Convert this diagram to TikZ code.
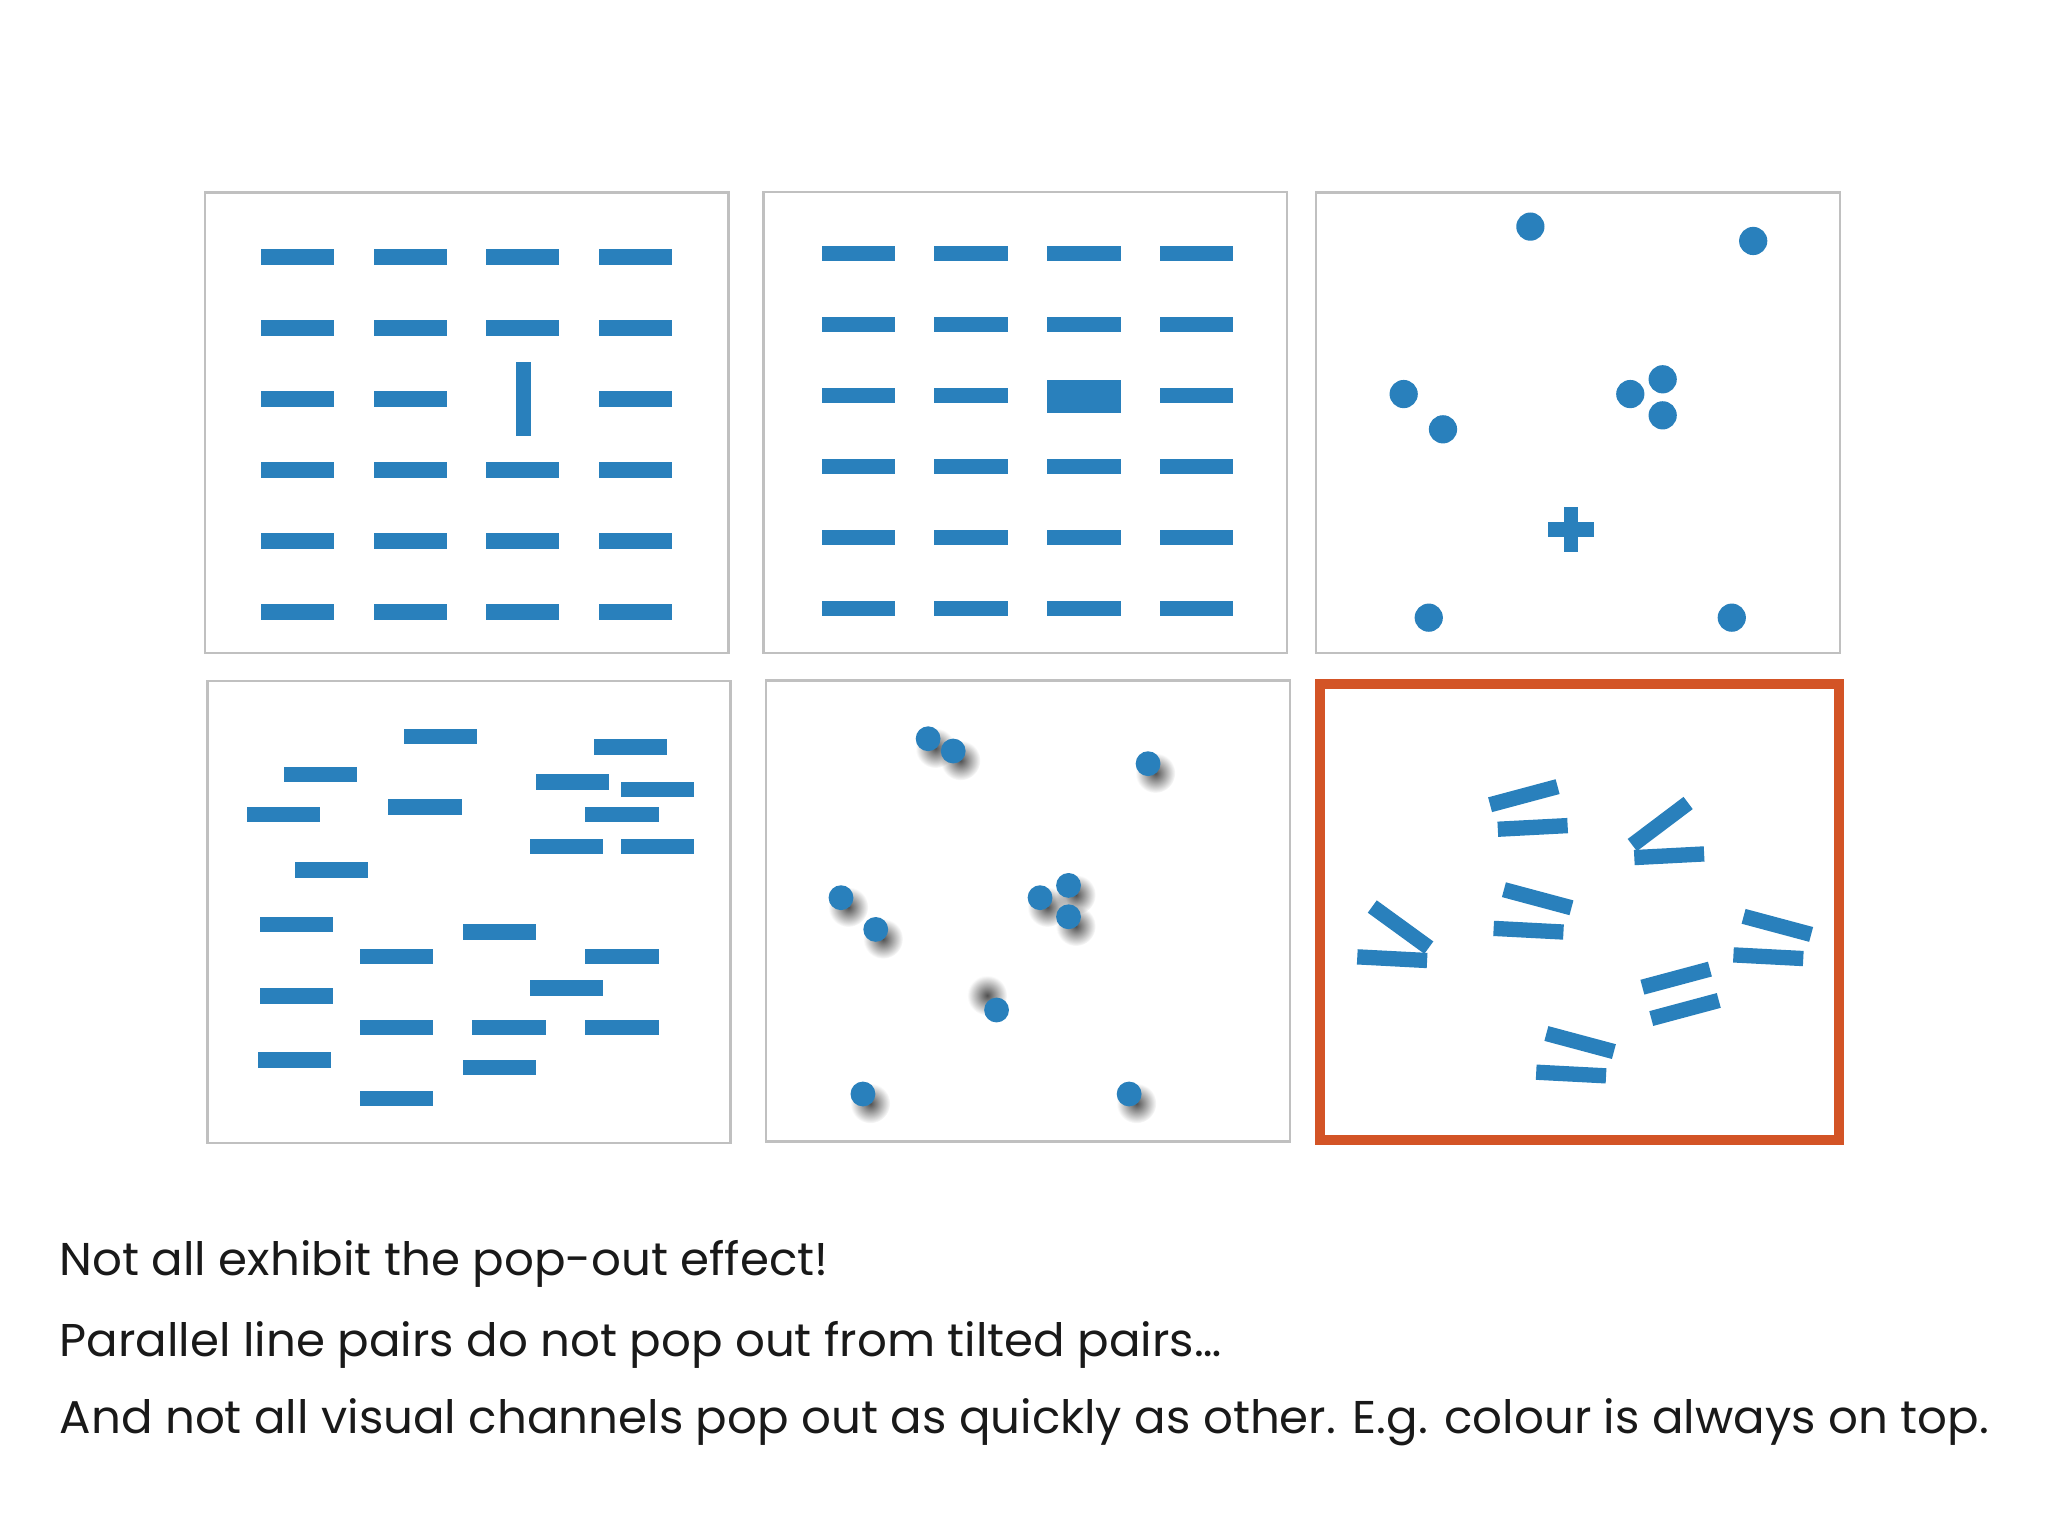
\documentclass[tikz,border=0pt]{standalone}
\usepackage{fontspec}
\setmainfont{Poppins}[FakeStretch=1.017]
\usepackage{xcolor}
\usepackage{tikz}
\usetikzlibrary{shadows, fadings}
\definecolor{barblue}{RGB}{41,128,188}
\definecolor{framegray}{RGB}{192,192,192}
\definecolor{popred}{RGB}{211,84,38}
\definecolor{inkgray}{RGB}{25,25,25}
\tikzfading[name=softshadow, inner color=transparent!0, outer color=transparent!100]

\begin{document}
\begin{tikzpicture}[
    x=0.01cm, y=-0.01cm,
    frame/.style={draw=framegray, line width=0.5pt},
    popframe/.style={draw=popred, line width=0.077cm},
    hbar/.style={
      rectangle, fill=barblue, inner sep=0pt,
      minimum width=0.56cm, minimum height=0.117cm
    },
    tbar/.style={hbar, minimum width=0.535cm},
    dot/.style={circle, fill=barblue, inner sep=0pt, minimum size=0.216cm},
    sdot/.style={
      dot, minimum size=0.19cm,
      general shadow={fill=black!80, opacity=0.85, path fading=softshadow,
        shadow scale=1.6, shadow xshift=0.035cm, shadow yshift=-0.045cm}
    },
    odot/.style={
      dot, minimum size=0.19cm,
      general shadow={fill=black!80, opacity=0.85, path fading=softshadow,
        shadow scale=1.6, shadow xshift=-0.045cm, shadow yshift=0.07cm}
    },
    note/.style={anchor=base west, inner sep=0pt, text=inkgray,
      font=\fontsize{10}{12}\selectfont}
  ]

  \useasboundingbox[fill=white] (0,0) rectangle (1568,1176);

  % ── Frames ─────────────────────────────────────────────────────
  \draw[frame] (157.1,147.3) rectangle (557.8,499.7);
  \draw[frame] (584.5,146.8) rectangle (985.3,499.7);
  \draw[frame] (1007.7,147.3) rectangle (1409.0,499.7);
  \draw[frame] (158.9,521.4) rectangle (559.2,874.9);
  \draw[frame] (586.6,521.0) rectangle (987.9,874.0);
  \draw[popframe] (1010.6,524.0) rectangle (1407.7,872.6);

  % ── Panel 1: orientation ──────────────────────────────────────
  \foreach \c/\x in {1/228.0, 2/314.2, 3/400.2, 4/486.7}
    \foreach \r/\y in {1/196.8, 2/251.1, 3/305.5, 4/359.9, 5/414.2, 6/468.6}
      {\ifnum\r\c=33 \else \node[hbar] (o\r\c) at (\x,\y) {}; \fi}
  \node[hbar, rotate=90] (oodd) at (400.7,305.5) {};

  % ── Panel 2: size ─────────────────────────────────────────────
  \foreach \c/\x in {1/657.3, 2/743.4, 3/829.9, 4/916.0}
    \foreach \r/\y in {1/194.2, 2/248.6, 3/302.9, 4/357.3, 5/411.6, 6/466.0}
      {\ifnum\r\c=33 \else \node[hbar] (s\r\c) at (\x,\y) {}; \fi}
  \node[hbar, minimum height=0.25cm] (sodd) at (829.9,303.4) {};

  % ── Panel 3: shape ────────────────────────────────────────────
  \node[dot] (c1) at (1171.7,173.5) {};
  \node[dot] (c2) at (1342.3,184.5) {};
  \node[dot] (c3) at (1074.7,301.7) {};
  \node[dot] (c4) at (1104.8,328.7) {};
  \node[dot] (c5) at (1248.2,301.7) {};
  \node[dot] (c6) at (1273.0,290.4) {};
  \node[dot] (c7) at (1273.0,318.0) {};
  \node[dot] (c8) at (1093.9,472.9) {};
  \node[dot] (c9) at (1325.9,472.9) {};
  \node[fill=barblue, inner sep=0pt, minimum width=0.35cm,
    minimum height=0.115cm] (crossh) at (1202.8,405.3) {};
  \node[fill=barblue, inner sep=0pt, minimum width=0.105cm,
    minimum height=0.34cm] (crossv) at (1202.8,405.3) {};

  % ── Panel 4: scattered bars ───────────────────────────────────
  \node[hbar] (r1)  at (337.0,563.8) {};
  \node[hbar] (r2)  at (482.6,572.0) {};
  \node[hbar] (r3)  at (245.3,593.1) {};
  \node[hbar] (r4)  at (438.5,598.8) {};
  \node[hbar] (r5)  at (503.4,604.6) {};
  \node[hbar] (r6)  at (325.4,617.9) {};
  \node[hbar] (r7)  at (217.0,623.8) {};
  \node[hbar] (r8)  at (476.2,623.8) {};
  \node[hbar] (r9)  at (433.8,648.0) {};
  \node[hbar] (r10) at (503.4,648.0) {};
  \node[hbar] (r11) at (254.0,666.2) {};
  \node[hbar] (r12) at (227.1,708.0) {};
  \node[hbar] (r13) at (382.4,713.6) {};
  \node[hbar] (r14) at (303.5,732.5) {};
  \node[hbar] (r15) at (476.2,732.5) {};
  \node[hbar] (r16) at (227.1,762.6) {};
  \node[hbar] (r17) at (433.8,756.5) {};
  \node[hbar] (r18) at (303.5,786.9) {};
  \node[hbar] (r19) at (389.7,786.9) {};
  \node[hbar] (r20) at (476.2,786.9) {};
  \node[hbar] (r21) at (225.2,811.6) {};
  \node[hbar] (r22) at (382.4,817.5) {};
  \node[hbar] (r23) at (303.5,841.2) {};

  % ── Panel 5: shading direction ────────────────────────────────
  \node[sdot] (p1)  at (710.6,565.6) {};
  \node[sdot] (p2)  at (729.8,575.0) {};
  \node[sdot] (p3)  at (879.0,584.7) {};
  \node[sdot] (p4)  at (643.9,687.3) {};
  \node[sdot] (p5)  at (670.5,711.6) {};
  \node[sdot] (p6)  at (796.3,687.3) {};
  \node[sdot] (p7)  at (818.1,677.9) {};
  \node[sdot] (p8)  at (818.1,701.9) {};
  \node[odot] (p9)  at (763.0,773.3) {};
  \node[sdot] (p10) at (660.7,837.6) {};
  \node[sdot] (p11) at (864.5,837.6) {};

  % ── Panel 6: tilted pairs ─────────────────────────────────────
  \node[tbar, rotate=15]  (t1)  at (1166.7,609.2) {};
  \node[tbar, rotate=3]   (t2)  at (1173.5,633.5) {};
  \node[tbar, rotate=37]  (t3)  at (1271.1,630.9) {};
  \node[tbar, rotate=3]   (t4)  at (1278.0,655.2) {};
  \node[tbar, rotate=-36] (t5)  at (1072.3,709.8) {};
  \node[tbar, rotate=-3]  (t6)  at (1065.9,734.0) {};
  \node[tbar, rotate=-15] (t7)  at (1177.3,688.1) {};
  \node[tbar, rotate=-3]  (t8)  at (1170.3,712.2) {};
  \node[tbar, rotate=-15] (t9)  at (1360.8,708.5) {};
  \node[tbar, rotate=-3]  (t10) at (1353.9,732.5) {};
  \node[tbar, rotate=15]  (t11) at (1283.3,748.9) {};
  \node[tbar, rotate=15]  (t12) at (1290.1,772.9) {};
  \node[tbar, rotate=-15] (t13) at (1209.8,798.2) {};
  \node[tbar, rotate=-3]  (t14) at (1202.9,822.3) {};

  % ── Caption lines ─────────────────────────────────────────────
  \node[note] (note1) at (45,976.2)  {Not all exhibit the pop-out effect!};
  \node[note] (note2) at (45,1038.2) {Parallel line pairs do not pop out from tilted pairs…};
  \node[note] (note3) at (45,1097.4)
    {And not all visual channels pop out as quickly as other. E.g. colour is always on top.};

\end{tikzpicture}
\end{document}
